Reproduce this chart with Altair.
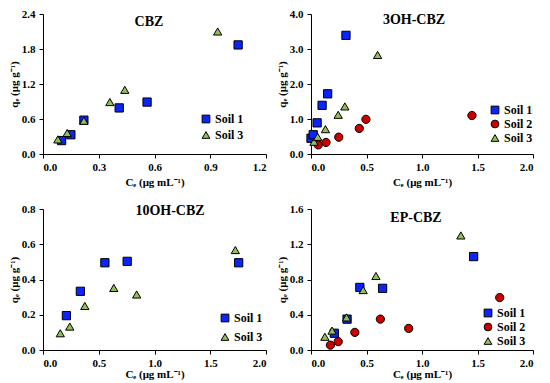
import altair as alt
import pandas as pd

# ---------------- data ----------------
soil_names = ["Soil 1", "Soil 2", "Soil 3"]

cbz_s1_x = [0.10, 0.15, 0.22, 0.41, 0.56, 1.05]
cbz_s1_y = [0.23, 0.33, 0.58, 0.79, 0.89, 1.87]
cbz_s3_x = [0.08, 0.13, 0.22, 0.36, 0.44, 0.94]
cbz_s3_y = [0.25, 0.36, 0.57, 0.89, 1.10, 2.10]

oh3_s1_x = [0.00, 0.02, 0.055, 0.10, 0.15, 0.315]
oh3_s1_y = [0.45, 0.55, 0.89, 1.39, 1.72, 3.39]
oh3_s2_x = [0.065, 0.135, 0.25, 0.435, 0.495, 1.45]
oh3_s2_y = [0.26, 0.33, 0.48, 0.73, 0.99, 1.10]
oh3_s3_x = [0.027, 0.06, 0.13, 0.245, 0.305, 0.60]
oh3_s3_y = [0.35, 0.49, 0.71, 1.12, 1.36, 2.83]

oh10_s1_x = [0.21, 0.335, 0.555, 0.755, 1.755]
oh10_s1_y = [0.195, 0.333, 0.495, 0.503, 0.495]
oh10_s3_x = [0.155, 0.24, 0.375, 0.635, 0.84, 1.725]
oh10_s3_y = [0.095, 0.133, 0.25, 0.352, 0.315, 0.567]

ep_s1_x = [0.21, 0.325, 0.44, 0.645, 1.465]
ep_s1_y = [0.19, 0.35, 0.71, 0.70, 1.06]
ep_s2_x = [0.175, 0.245, 0.395, 0.625, 0.88, 1.70]
ep_s2_y = [0.055, 0.095, 0.20, 0.35, 0.245, 0.595]
ep_s3_x = [0.125, 0.19, 0.32, 0.47, 0.585, 1.35]
ep_s3_y = [0.15, 0.22, 0.37, 0.68, 0.84, 1.30]

SHAPES = {"Soil 1": "square", "Soil 2": "circle", "Soil 3": "triangle-up"}
COLORS = {"Soil 1": "#0A23FF", "Soil 2": "#CC0000", "Soil 3": "#92BE58"}
FONT = "Liberation Serif, Times New Roman, serif"


def frame(series):
    rows = []
    for soil, xs, ys in series:
        for x, y in zip(xs, ys):
            rows.append({"soil": soil, "ce": x, "qe": y})
    return pd.DataFrame(rows)


def panel(series, xmax, xstep, ymax, ystep, title, tx, ty, lx, ly, rowpad, w, h, xtp):
    df = frame(series)
    soils = [s for s, _, _ in series]
    xt = [round(i * xstep, 2) for i in range(int(round(xmax / xstep)) + 1)]
    yt = [round(i * ystep, 2) for i in range(int(round(ymax / ystep)) + 1)]
    pts = alt.Chart(df).mark_point(
        filled=True, stroke="black", strokeWidth=1, opacity=1, size=68
    ).encode(
        x=alt.X("ce:Q", scale=alt.Scale(domain=[0, xmax], nice=False),
                axis=alt.Axis(values=xt, format=".1f", title="Cₑ (μg mL⁻¹)", titlePadding=xtp)),
        y=alt.Y("qe:Q", scale=alt.Scale(domain=[0, ymax], nice=False),
                axis=alt.Axis(values=yt, format=".1f", title="qₑ (μg g⁻¹)")),
        shape=alt.Shape("soil:N", scale=alt.Scale(domain=soils, range=[SHAPES[s] for s in soils]),
                        legend=alt.Legend(title=None, orient="none", legendX=lx, legendY=ly,
                                          rowPadding=rowpad)),
        color=alt.Color("soil:N", scale=alt.Scale(domain=soils, range=[COLORS[s] for s in soils]),
                        legend=alt.Legend(title=None, orient="none", legendX=lx, legendY=ly,
                                          rowPadding=rowpad)),
    )
    txt = alt.Chart(pd.DataFrame({"t": [title]})).mark_text(
        font=FONT, fontWeight="bold", fontSize=14, color="black"
    ).encode(text="t:N", x=alt.value(tx), y=alt.value(ty))
    return alt.layer(pts, txt).resolve_scale(color="independent", shape="independent").properties(width=w, height=h)


p1 = panel([("Soil 1", cbz_s1_x, cbz_s1_y), ("Soil 3", cbz_s3_x, cbz_s3_y)],
           1.2, 0.3, 2.4, 0.6, "CBZ", 106, 8, 157, 99, 4, 223, 140, 4)
p2 = panel([("Soil 1", oh3_s1_x, oh3_s1_y), ("Soil 2", oh3_s2_x, oh3_s2_y), ("Soil 3", oh3_s3_x, oh3_s3_y)],
           2.0, 0.5, 4.0, 1.0, "3OH-CBZ", 103, 6, 178, 90, 2, 222, 140, 4)
p3 = panel([("Soil 1", oh10_s1_x, oh10_s1_y), ("Soil 3", oh10_s3_x, oh10_s3_y)],
           2.0, 0.5, 0.8, 0.2, "10OH-CBZ", 127, 1.5, 176, 103, 7, 223, 141, 0)
p4 = panel([("Soil 1", ep_s1_x, ep_s1_y), ("Soil 2", ep_s2_x, ep_s2_y), ("Soil 3", ep_s3_x, ep_s3_y)],
           2.0, 0.5, 1.6, 0.4, "EP-CBZ", 105, 8.5, 171, 98, 2, 222, 141, 0)

top = alt.hconcat(p1, p2, spacing=9).resolve_scale(color="independent", shape="independent")
bot = alt.hconcat(p3, p4, spacing=9).resolve_scale(color="independent", shape="independent")

chart = alt.vconcat(top, bot, spacing=15).resolve_scale(
    color="independent", shape="independent"
).properties(padding={"left": 0, "top": 0, "right": 0, "bottom": 0}).configure_view(stroke=None).configure_axis(
    grid=False, domainColor="black", tickColor="black", tickSize=4,
    labelFont=FONT, labelFontWeight="bold", labelFontSize=11, labelColor="black",
    titleFont=FONT, titleFontWeight="bold", titleFontSize=11, titleColor="black",
).configure_axisX(labelPadding=3.5).configure_axisY(titlePadding=2, labelPadding=4).configure_legend(
    labelFont=FONT, labelFontWeight="bold", labelFontSize=12, labelColor="black",
    symbolStrokeColor="black", symbolStrokeWidth=1, symbolSize=60, symbolType="square",
    padding=0, labelOffset=3,
)

chart.save("out.html", embed_options={"renderer": "svg", "actions": False})
